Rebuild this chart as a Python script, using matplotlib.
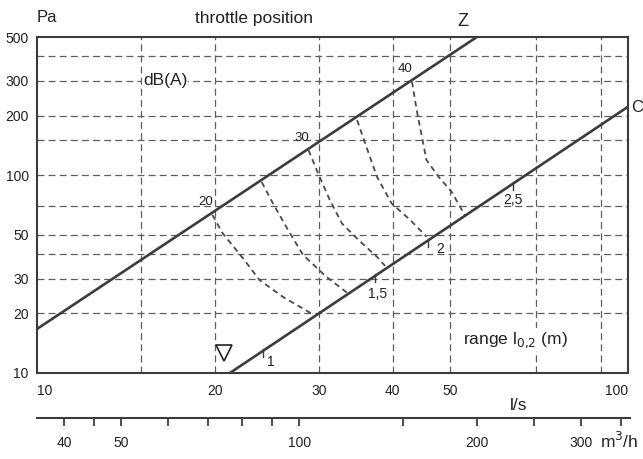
import numpy as np
import matplotlib as mpl
mpl.use("Agg")
import matplotlib.pyplot as plt
from matplotlib.ticker import FixedLocator, NullFormatter, NullLocator

# --- data --------------------------------------------------------------------
# throttle characteristic lines (flow l/s, pressure Pa)
z_flow = [10.0, 55.5]
z_press = [16.7, 500.0]
c_flow = [21.2, 100.0]
c_press = [10.0, 222.0]

# dB(A) isolines between Z and C
iso_levels = ["20", "25", "30", "35", "40"]
iso_flow = [
    [19.8, 20.6, 22.3, 23.8, 26.1, 29.2],
    [24.0, 25.0, 26.6, 28.2, 30.9, 33.5],
    [28.8, 29.9, 31.3, 32.8, 35.0, 37.6, 38.8],
    [34.8, 35.9, 37.6, 39.8, 42.8, 45.6],
    [43.1, 43.9, 44.8, 45.6, 47.8, 50.3, 53.0],
]
iso_press = [
    [63.0, 51.0, 38.1, 29.5, 24.2, 19.9],
    [92.4, 73.2, 52.8, 39.5, 30.6, 25.4],
    [134.0, 102.0, 74.9, 57.1, 47.0, 38.7, 34.8],
    [190.0, 145.5, 98.3, 72.1, 59.4, 48.9],
    [297.0, 213.6, 156.5, 119.4, 98.3, 82.5, 62.5],
]
iso_labelled = ["20", "30", "40"]

# range l_0,2 marks along line C
range_labels = ["1", "1,5", "2", "2,5"]
range_flow = [24.1, 37.3, 45.9, 63.9]

# triangle marker on the flow axis
tri_flow = 20.7
tri_press = 12.6

x_ticks = [10, 20, 30, 40, 50, 100]
y_ticks = [10, 20, 30, 50, 100, 200, 300, 500]
x_grid = [15, 20, 30, 40, 50, 70, 90]
y_grid = [20, 30, 40, 50, 70, 100, 150, 200, 300, 400]

m3h_major = [40, 50, 100, 200, 300]
m3h_minor = [45, 60, 70, 80, 90, 150, 250, 350]
LS_TO_M3H = 3.6

# --- style -------------------------------------------------------------------
plt.rcParams.update({
    "font.family": ["Liberation Sans", "DejaVu Sans"],
    "font.size": 10,
    "lines.scale_dashes": False,
})
DARK = "#3c3c3c"
GRID = "#5e5e5e"
W, H = 643, 459


def fx(px):
    return px / W


def fy(py):
    return 1 - py / H


fig = plt.figure(figsize=(W / 100, H / 100), dpi=100)
ax = fig.add_axes([fx(37), fy(373), (628 - 37) / W, (373 - 37) / H])
ax.set_xscale("log")
ax.set_yscale("log")
ax.set_xlim(10, 100)
ax.set_ylim(10, 500)

for g in x_grid:
    ax.axvline(g, color=GRID, lw=0.9, ls=(0, (5, 3)), zorder=1)
for g in y_grid:
    ax.axhline(g, color=GRID, lw=0.9, ls=(0, (5, 3)), zorder=1)

ax.plot(z_flow, z_press, color=DARK, lw=1.9, solid_capstyle="butt", zorder=4)
ax.plot(c_flow, c_press, color=DARK, lw=1.9, solid_capstyle="butt", zorder=4,
        clip_on=False)

for lev, qs, ps in zip(iso_levels, iso_flow, iso_press):
    ax.plot(qs, ps, color="#4a4a4a", lw=1.3, ls=(0, (4, 3)), zorder=3)
    if lev in iso_labelled:
        ax.annotate(lev, xy=(qs[0], ps[0]), xytext=(-5, 9),
                    textcoords="offset points", ha="center", va="center",
                    fontsize=9.5, color="#222222", zorder=5)

# range ticks on line C
c_k = c_press[0] / c_flow[0] ** 2
for lab, q in zip(range_labels, range_flow):
    p = c_k * q * q
    ax.plot([q, q], [p * 1.02, p * 0.93], color=DARK, lw=1.0, zorder=5)
offsets = {"1": (6, -8), "1,5": (2, -13), "2": (9, -6), "2,5": (0, -12)}
for lab, q in zip(range_labels, range_flow):
    p = c_k * q * q
    ax.annotate(lab, xy=(q, p), xytext=offsets[lab], textcoords="offset points",
                ha="center", va="center", fontsize=10, color="#222222")

ax.plot([tri_flow], [tri_press], marker="v", ms=11, mfc="white", mec="#222222",
        mew=1.2, ls="none", zorder=6)

ax.text(15.1, 300, "dB(A)", ha="left", va="center", fontsize=12.5,
        color="#222222", zorder=6,
        bbox=dict(boxstyle="square,pad=0.05", fc="white", ec="none"))
ax.text(52.6, 14.7, r"range l$_{0{,}2}$ (m)", ha="left", va="center",
        fontsize=12.5, color="#222222", zorder=6,
        bbox=dict(boxstyle="square,pad=0.1", fc="white", ec="none"))

ax.xaxis.set_major_locator(FixedLocator(x_ticks))
ax.xaxis.set_minor_locator(NullLocator())
ax.set_xticklabels([str(t) for t in x_ticks])
ax.yaxis.set_major_locator(FixedLocator(y_ticks))
ax.yaxis.set_minor_locator(NullLocator())
ax.set_yticklabels([str(t) for t in y_ticks])
ax.tick_params(axis="both", length=0, labelsize=10, colors="#222222")
ax.tick_params(axis="x", pad=8)
ax.tick_params(axis="y", pad=6)
xl = ax.get_xticklabels()
xl[0].set_ha("left")
xl[-1].set_ha("right")
for s in ax.spines.values():
    s.set_color(DARK)
    s.set_linewidth(1.5)

# second flow scale in m3/h
ax2 = fig.add_axes([fx(37), fy(418), (630 - 37) / W, 1e-4])
ax2.set_xscale("log")
ax2.set_xlim(10 * LS_TO_M3H, 10 * LS_TO_M3H * 10 ** ((630 - 37) / 591))
ax2.patch.set_visible(False)
for k in ("top", "left", "right"):
    ax2.spines[k].set_visible(False)
ax2.spines["bottom"].set_color(DARK)
ax2.spines["bottom"].set_linewidth(1.5)
ax2.yaxis.set_visible(False)
ax2.xaxis.set_major_locator(FixedLocator(m3h_major))
ax2.xaxis.set_minor_locator(FixedLocator(m3h_minor))
ax2.set_xticklabels([str(t) for t in m3h_major])
ax2.xaxis.set_minor_formatter(NullFormatter())
ax2.tick_params(axis="x", which="both", direction="out", length=6,
                width=1.3, color=DARK, labelsize=10, labelcolor="#222222",
                pad=7)

fig.text(fx(37), fy(18), "Pa", ha="left", va="center", fontsize=12,
         color="#222222")
fig.text(fx(254), fy(18), "throttle position", ha="center", va="center",
         fontsize=12.5, color="#222222")
fig.text(fx(463), fy(21), "Z", ha="center", va="center", fontsize=13,
         color="#222222")
fig.text(fx(631), fy(107), "C", ha="left", va="center", fontsize=12,
         color="#222222")
fig.text(fx(519), fy(405), "l/s", ha="center", va="center", fontsize=12.5,
         color="#222222")
fig.text(fx(619), fy(441), r"m$^3$/h", ha="center", va="center",
         fontsize=12.5, color="#222222")

fig.savefig("out.png", dpi=100)
